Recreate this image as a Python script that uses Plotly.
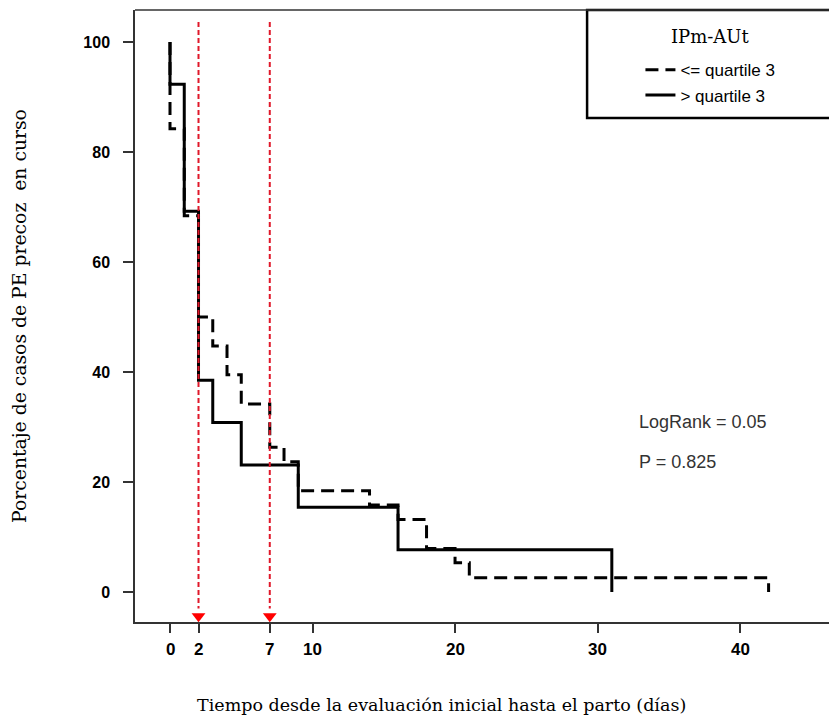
import plotly.graph_objects as go

# Kaplan-Meier style step data (percentage of ongoing early PE cases)
time_le_q3 = [0, 0, 1, 2, 3, 4, 5, 7, 8, 9, 14, 16, 18, 20, 21, 42]
surv_le_q3 = [100, 84.2, 68.4, 50.0, 44.7, 39.5, 34.2, 26.3, 23.7, 18.4, 15.8, 13.2, 7.9, 5.3, 2.6, 0]
time_gt_q3 = [0, 0, 1, 2, 3, 5, 9, 16, 31]
surv_gt_q3 = [100, 92.3, 69.2, 38.5, 30.8, 23.1, 15.4, 7.7, 0]
ref_days = [2, 7]
x_ticks = [0, 2, 7, 10, 20, 30, 40]
y_ticks = [0, 20, 40, 60, 80, 100]
logrank_text = ["LogRank = 0.05", "P = 0.825"]

X_RANGE = [-2.456, 46.8]
Y_RANGE = [-5.45, 105.8]
SERIF = "DejaVu Serif, Liberation Serif"

fig = go.Figure()

fig.add_trace(go.Scatter(
    x=time_le_q3, y=surv_le_q3, mode="lines", line_shape="hv",
    name="<= quartile 3",
    line=dict(color="black", width=3, dash="13px,7px"),
))
fig.add_trace(go.Scatter(
    x=time_gt_q3, y=surv_gt_q3, mode="lines", line_shape="hv",
    name="> quartile 3",
    line=dict(color="black", width=3),
))

for d in ref_days:
    fig.add_trace(go.Scatter(
        x=[d, d], y=[103.6, -3.0], mode="lines", showlegend=False,
        line=dict(color="#e0182a", width=2, dash="5px,3px"), hoverinfo="skip",
    ))
fig.add_trace(go.Scatter(
    x=ref_days, y=[-4.4] * len(ref_days), mode="markers", showlegend=False,
    marker=dict(symbol="triangle-down", size=12, color="#ff0000", line=dict(width=0)),
    hoverinfo="skip",
))

# Legend box and top frame line
fig.add_shape(type="rect", xref="paper", yref="paper", x0=0.644, x1=0.994, y0=0.8235, y1=1.0,
              line=dict(color="black", width=2.5), fillcolor="white", layer="below")
fig.add_shape(type="line", xref="paper", yref="paper", x0=0, x1=1, y0=1, y1=1,
              line=dict(color="#333", width=1.5))
fig.add_annotation(x=0.8205, y=0.9559, xref="paper", yref="paper", text="IPm-AUt", showarrow=False,
                   xanchor="center", yanchor="middle",
                   font=dict(family=SERIF, size=18, color="black"))

# x tick labels, placed on the axis scale
for v in x_ticks:
    fig.add_annotation(x=v, y=-0.0265, xref="x", yref="paper", text=str(v), showarrow=False,
                       xanchor="center", yanchor="top",
                       font=dict(family="Liberation Sans Narrow, Liberation Sans", size=17,
                                 color="black", weight="bold"))

fig.add_annotation(x=32.8, y=30.9, xref="x", yref="y", text=logrank_text[0], showarrow=False,
                   xanchor="left", yanchor="middle",
                   font=dict(family="Liberation Sans, Arial", size=18, color="#333"))
fig.add_annotation(x=32.8, y=23.6, xref="x", yref="y", text=logrank_text[1], showarrow=False,
                   xanchor="left", yanchor="middle",
                   font=dict(family="Liberation Sans, Arial", size=18, color="#333"))

fig.add_annotation(x=0.436, y=-0.1356, xref="paper", yref="paper", showarrow=False,
                   xanchor="center", yanchor="middle",
                   text="Tiempo desde la evaluación inicial hasta el parto (días)",
                   font=dict(family=SERIF, size=17.5, color="black"))

fig.update_layout(
    width=829, height=710,
    margin=dict(l=127, r=0, t=2, b=96),
    paper_bgcolor="white", plot_bgcolor="white",
    showlegend=True,
    legend=dict(
        x=0.72, y=0.931, xanchor="left", yanchor="top",
        bgcolor="rgba(0,0,0,0)", borderwidth=0,
        font=dict(family="Liberation Sans, Arial", size=17, color="black"),
        itemwidth=30,
    ),
    xaxis=dict(
        range=X_RANGE, tickmode="array", tickvals=x_ticks, showticklabels=False,
        showline=True, linecolor="#333", linewidth=1.5, ticks="outside", ticklen=9, tickwidth=1.5,
        tickcolor="#333", showgrid=False, zeroline=False, automargin=False,
    ),
    yaxis=dict(
        range=Y_RANGE, tickmode="array", tickvals=y_ticks, ticktext=[str(v) for v in y_ticks],
        showline=True, linecolor="#333", linewidth=1.5, ticks="outside", ticklen=10, tickwidth=1.5,
        tickcolor="#333", showgrid=False, zeroline=False, ticklabelstandoff=10,
        tickfont=dict(family="Liberation Sans, Arial", size=16, color="black", weight="bold"),
        title=dict(text="Porcentaje de casos de PE precoz  en curso", standoff=52,
                   font=dict(family=SERIF, size=18.8, color="black")),
    ),
)

fig.write_html("out.html")
